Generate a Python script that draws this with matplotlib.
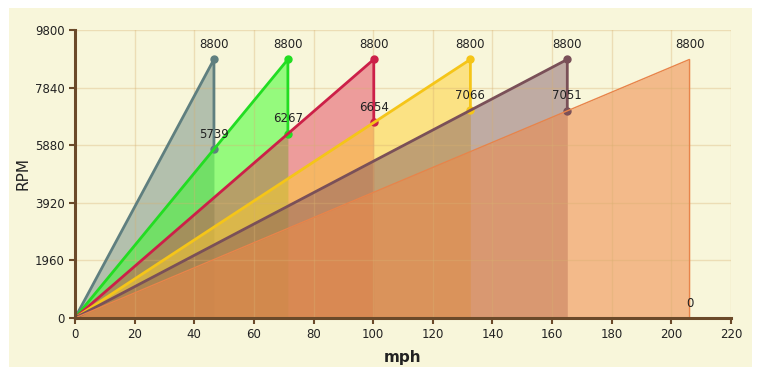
import matplotlib.pyplot as plt
from matplotlib.patches import Rectangle

# top speed (mph) of each gear at the 8800 rpm limit
gear_speeds = [46.6, 71.4, 100.2, 132.6, 165.1, 206.1]
redline = 8800
# rpm after shifting into the next gear (last gear drops to 0)
shift_rpm = [5739, 6267, 6654, 7066, 7051, 0]

line_colors = ['#5f7f7f', '#22dd22', '#cc2048', '#f5c518', '#7a5058', '#e8844a']
fill_colors = ['#5f7f78', '#33ff22', '#e03050', '#ffd030', '#7a5060', '#f08a48']
fill_alpha = [0.45, 0.5, 0.45, 0.5, 0.45, 0.55]

x_ticks = list(range(0, 221, 20))
y_ticks = [0, 1960, 3920, 5880, 7840, 9800]

brown = '#6b4a2a'
cream = '#f8f6da'

fig = plt.figure(figsize=(7.58, 3.75), dpi=100, facecolor='white')
fig.patches.append(Rectangle((9 / 758, 8 / 375), 743 / 758, 359 / 375,
                             transform=fig.transFigure, facecolor=cream,
                             edgecolor='none', zorder=-10))
ax = fig.add_axes([75 / 758, 57 / 375, 656 / 758, 288 / 375])
ax.set_facecolor(cream)

for i, v in enumerate(gear_speeds):
    xs = [0, v, v]
    ys = [0, redline, shift_rpm[i]]
    ax.fill_between(xs, ys, 0, color=fill_colors[i], alpha=fill_alpha[i],
                    linewidth=0, zorder=2)

for i, v in enumerate(gear_speeds):
    xs = [0, v, v]
    ys = [0, redline, shift_rpm[i]]
    last = i == len(gear_speeds) - 1
    ax.plot(xs, ys, color=line_colors[i], lw=1 if last else 2,
            marker=None if last else 'o', markersize=5, zorder=4,
            solid_joinstyle='miter')
    ax.annotate(str(redline), (v, redline), xytext=(0, 6),
                textcoords='offset points', ha='center', va='bottom',
                fontsize=8.5, color='#222222', zorder=6)
    ax.annotate(str(shift_rpm[i]), (v, shift_rpm[i]), xytext=(0, 6),
                textcoords='offset points', ha='center', va='bottom',
                fontsize=8.5, color='#222222', zorder=6)

ax.set_xlim(0, 220)
ax.set_ylim(0, 9800)
ax.set_xticks(x_ticks)
ax.set_yticks(y_ticks)
ax.grid(True, color='#d8b070', lw=1, alpha=0.35, zorder=3)
ax.set_axisbelow(False)

for side in ['top', 'right']:
    ax.spines[side].set_visible(False)
for side in ['left', 'bottom']:
    ax.spines[side].set_color(brown)
    ax.spines[side].set_linewidth(2.2)
    ax.spines[side].set_zorder(7)
ax.tick_params(colors=brown, labelcolor='#222222', labelsize=8.5,
               length=4, width=1.5, direction='out')

ax.set_xlabel('mph', fontsize=11, fontweight='bold', color='#222222', labelpad=6)
ax.set_ylabel('RPM', fontsize=11, color='#222222', labelpad=3)

fig.savefig('out.png', dpi=100, facecolor=fig.get_facecolor())
